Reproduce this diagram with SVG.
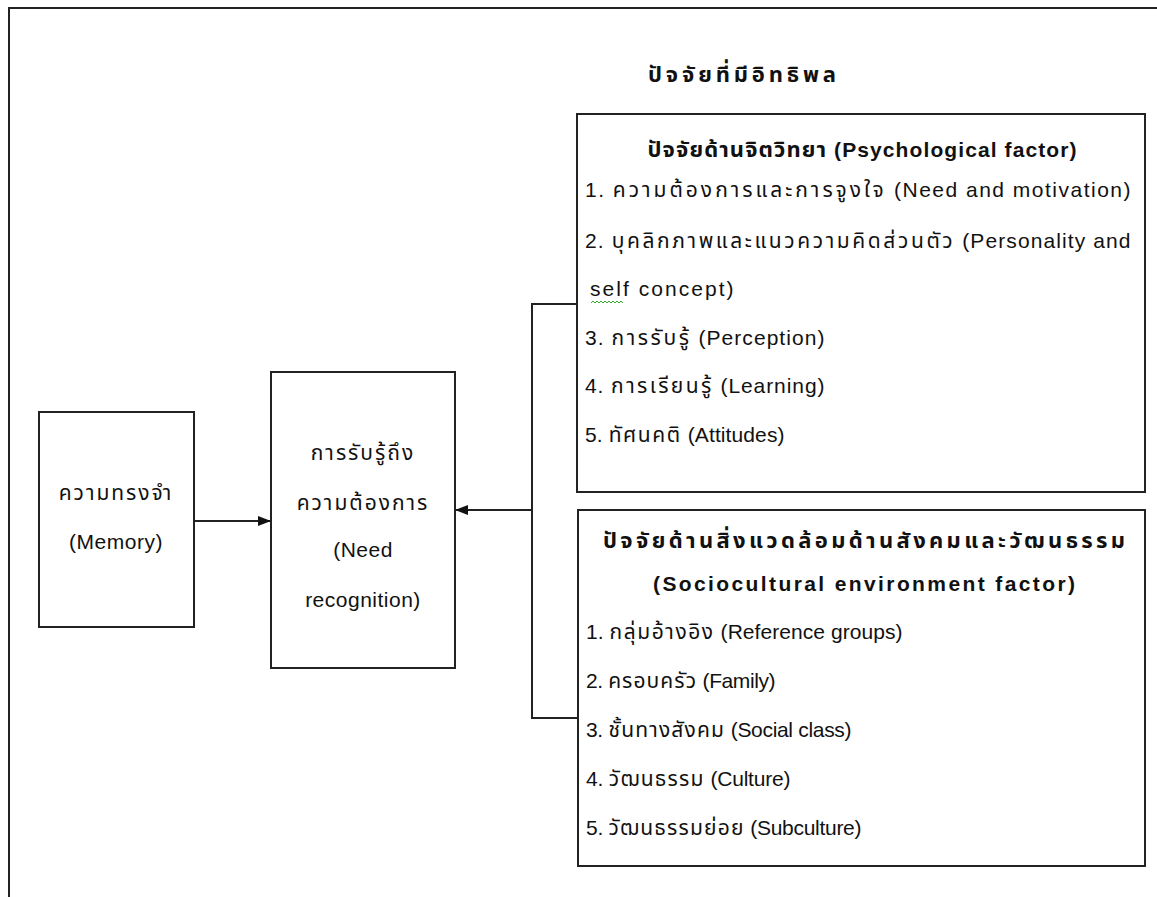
<svg xmlns="http://www.w3.org/2000/svg" width="1157" height="897" viewBox="0 0 1157 897">
<style>
.box{fill:#fff;stroke:#222;stroke-width:2}
.ln{fill:none;stroke:#222;stroke-width:2}
text{font-family:"Liberation Sans","Noto Sans Thai","Noto Sans",sans-serif;font-size:21px;fill:#111}
.b{font-weight:bold}
.c{text-anchor:middle}
.th{letter-spacing:2px}
.en{letter-spacing:0.5px}
.tb{font-size:22px}
</style>
<defs>
<marker id="ah" markerUnits="userSpaceOnUse" markerWidth="14" markerHeight="12" refX="13" refY="6" orient="auto">
<path d="M0,1 L13,6 L0,11 Z" fill="#111"/>
</marker>
</defs>
<rect width="1157" height="897" fill="#fff"/>
<path class="ln" d="M9,897 V8 H1157"/>
<text id="title" class="b c tb" x="742" y="82" textLength="188" lengthAdjust="spacing">ปัจจัยที่มีอิทธิพล</text>
<g id="memory">
<rect class="box" x="39" y="412" width="155" height="215"/>
<text class="c th" x="116" y="500">ความทรงจำ</text>
<text class="c en" x="116" y="549">(Memory)</text>
</g>
<g id="need">
<rect class="box" x="271" y="372" width="184" height="296"/>
<text class="c th" x="363" y="460">การรับรู้ถึง</text>
<text class="c th" x="363" y="510">ความต้องการ</text>
<text class="c en" x="363" y="557">(Need</text>
<text class="c en" x="363" y="607">recognition)</text>
</g>
<g id="psych">
<rect class="box" x="577" y="114" width="568" height="378"/>
<text class="b c" x="862" y="157" textLength="429" lengthAdjust="spacing"><tspan class="tb">ปัจจัยด้านจิตวิทยา</tspan> (Psychological factor)</text>
<text x="585" y="197" textLength="546" lengthAdjust="spacing"><tspan class="en">1. </tspan><tspan class="th">ความต้องการและการจูงใจ</tspan><tspan class="en"> (Need and motivation)</tspan></text>
<text x="585" y="248" textLength="546" lengthAdjust="spacing"><tspan class="en">2. </tspan><tspan class="th">บุคลิกภาพและแนวความคิดส่วนตัว</tspan><tspan class="en"> (Personality and</tspan></text>
<text class="en" x="590" y="296" textLength="144" lengthAdjust="spacing">self concept)</text>
<path d="M591,303 l2,-2 l2,2 l2,-2 l2,2 l2,-2 l2,2 l2,-2 l2,2 l2,-2 l2,2 l2,-2 l2,2 l2,-2 l2,2 l2,-2 l2,2" fill="none" stroke="#3a3" stroke-width="1"/>
<text x="585" y="345" textLength="240" lengthAdjust="spacing"><tspan class="en">3. </tspan><tspan class="th">การรับรู้</tspan><tspan class="en"> (Perception)</tspan></text>
<text x="585" y="393" textLength="240" lengthAdjust="spacing"><tspan class="en">4. </tspan><tspan class="th">การเรียนรู้</tspan><tspan class="en"> (Learning)</tspan></text>
<text x="585" y="442" textLength="200" lengthAdjust="spacing"><tspan class="en">5. </tspan><tspan class="th">ทัศนคติ</tspan><tspan class="en"> (Attitudes)</tspan></text>
</g>
<g id="socio">
<rect class="box" x="578" y="510" width="567" height="356"/>
<text class="b c tb" x="864" y="548" textLength="522" lengthAdjust="spacing">ปัจจัยด้านสิ่งแวดล้อมด้านสังคมและวัฒนธรรม</text>
<text class="b c" x="864" y="591" textLength="422" lengthAdjust="spacing">(Sociocultural environment factor)</text>
<text x="586" y="639" textLength="317" lengthAdjust="spacing"><tspan class="en">1. </tspan><tspan class="th">กลุ่มอ้างอิง</tspan><tspan class="en"> (Reference groups)</tspan></text>
<text x="586" y="688" textLength="190" lengthAdjust="spacing"><tspan class="en">2. </tspan><tspan class="th">ครอบครัว</tspan><tspan class="en"> (Family)</tspan></text>
<text x="586" y="737" textLength="266" lengthAdjust="spacing"><tspan class="en">3. </tspan><tspan class="th">ชั้นทางสังคม</tspan><tspan class="en"> (Social class)</tspan></text>
<text x="586" y="786" textLength="205" lengthAdjust="spacing"><tspan class="en">4. </tspan><tspan class="th">วัฒนธรรม</tspan><tspan class="en"> (Culture)</tspan></text>
<text x="586" y="835" textLength="276" lengthAdjust="spacing"><tspan class="en">5. </tspan><tspan class="th">วัฒนธรรมย่อย</tspan><tspan class="en"> (Subculture)</tspan></text>
</g>
<g id="connectors">
<line class="ln" x1="194" y1="521" x2="271" y2="521" marker-end="url(#ah)"/>
<path class="ln" d="M577,304 H532 V718 H578"/>
<line class="ln" x1="532" y1="510" x2="455" y2="510" marker-end="url(#ah)"/>
</g>
</svg>
